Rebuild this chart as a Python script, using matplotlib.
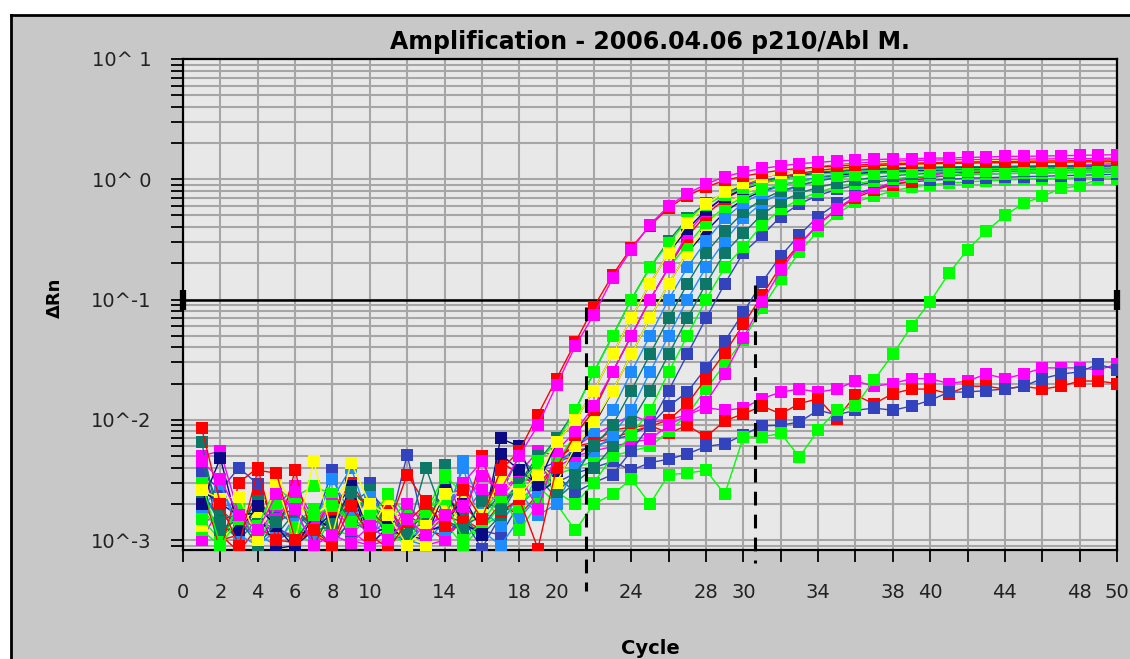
import numpy as np
import matplotlib
matplotlib.use("Agg")
import matplotlib.pyplot as plt
from matplotlib.patches import Rectangle
from matplotlib.lines import Line2D

# dRn values in units of 1e-3, cycles 1..50
cycles = np.arange(1, 51)

mag_a = [4.5, 3.2, 1.6, 1.2, 2.4, 1.8, 0.9, 1.1, 0.95, 1.3, 1.0, 1.5, 1.1, 1.6, 1.9, 3.4, 2.6,
         5, 9, 19.5, 41, 75, 150, 260, 420, 600, 760, 910, 1050, 1150, 1230, 1290, 1350, 1380, 1420,
         1440, 1460, 1470, 1480, 1500, 1500, 1520, 1530, 1550, 1550, 1560, 1570, 1580, 1590, 1600]
red_a = [8.5, 2.0, 0.9, 3.8, 3.6, 1.0, 1.2, 0.9, 1.9, 1.1, 0.85, 1.4, 2.0, 1.3, 2.6, 1.5, 3.8,
         5.5, 11, 22, 44, 87, 160, 270, 410, 580, 730, 860, 980, 1060, 1130, 1190, 1230, 1260, 1290,
         1310, 1330, 1350, 1360, 1370, 1380, 1390, 1400, 1400, 1410, 1420, 1420, 1430, 1440, 1450]
grn_a = [3.0, 0.9, 1.5, 1.3, 2.8, 2.0, 1.6, 1.9, 1.4, 1.7, 1.2, 0.9, 1.8, 2.2, 1.0, 1.4, 2.3, 2.6,
         4.5, 6.5, 12, 25, 50, 100, 185, 296, 454, 611, 741, 852, 935, 1000, 1056, 1100, 1130, 1157,
         1176, 1194, 1204, 1210, 1215, 1220, 1225, 1230, 1232, 1235, 1240, 1243, 1246, 1250]
yel_a = [2.6, 2.2, 2.3, 1.0, 3.0, 1.0, 4.5, 1.1, 4.4, 2.0, 1.6, 0.9, 1.3, 2.4, 2.5, 1.6, 3.2, 2.4, 3.5,
         6.5, 10, 17.5, 35, 70, 135, 245, 430, 618, 789, 924, 1036, 1122, 1192, 1251, 1294, 1326,
         1350, 1370, 1385, 1395, 1405, 1410, 1415, 1420, 1425, 1430, 1435, 1440, 1445, 1450]
teal_a = [6.5, 1.2, 1.5, 0.9, 1.4, 1.7, 1.2, 1.3, 2.5, 2.0, 1.0, 1.1, 4.0, 1.5, 1.2, 2.1, 1.8, 3.0,
          4.5, 7.0, 12, 25, 50, 100, 185, 308, 472, 636, 770, 886, 973, 1040, 1098, 1146, 1175, 1204,
          1223, 1242, 1252, 1260, 1265, 1270, 1275, 1280, 1283, 1286, 1290, 1293, 1296, 1300]
navy_a = [2.0, 4.8, 1.2, 1.9, 1.3, 0.85, 1.6, 1.2, 2.8, 1.1, 1.3, 1.0, 1.2, 1.3, 2.3, 1.2, 5.2, 3.8, 2.9,
          6.5, 10, 17.5, 35, 70, 135, 245, 385, 554, 708, 828, 929, 1006, 1069, 1122, 1160, 1189,
          1210, 1225, 1238, 1248, 1255, 1260, 1265, 1270, 1275, 1280, 1285, 1290, 1295, 1300]
mag_b = [5.0, 5.5, 1.6, 1.0, 1.5, 2.5, 1.4, 2.0, 1.2, 0.9, 1.0, 2.0, 1.3, 1.6, 3.0, 4.5, 2.2, 3.5, 1.8,
         5.5, 8, 13, 25, 50, 100, 185, 356, 544, 733, 889, 1022, 1122, 1200, 1267, 1322, 1356,
         1389, 1411, 1433, 1444, 1450, 1455, 1460, 1465, 1470, 1475, 1480, 1485, 1490, 1500]
red_b = [3.0, 0.8, 3.0, 4.0, 1.0, 3.8, 0.9, 1.8, 3.0, 1.7, 1.3, 3.5, 2.0, 1.6, 1.4, 5.0, 1.7, 2.2, 0.85,
         4.0, 7.5, 12, 25, 50, 100, 185, 332, 508, 684, 830, 954, 1048, 1120, 1182, 1234, 1265,
         1296, 1317, 1338, 1348, 1355, 1362, 1368, 1374, 1380, 1385, 1390, 1393, 1396, 1400]
grn_b = [1.5, 1.0, 1.9, 0.9, 2.0, 2.3, 2.8, 2.4, 1.3, 1.5, 2.4, 1.6, 1.7, 3.5, 2.4, 1.6, 2.7, 1.2, 2.0,
         4.5, 7.5, 12, 25, 50, 100, 185, 284, 436, 587, 711, 818, 898, 960, 1013, 1058, 1085,
         1111, 1129, 1147, 1156, 1165, 1170, 1175, 1180, 1183, 1186, 1190, 1193, 1196, 1200]
yel_b = [1.3, 1.0, 1.4, 1.7, 3.2, 2.0, 1.5, 2.3, 3.0, 1.2, 2.2, 1.1, 0.9, 2.0, 1.4, 1.6, 3.8, 2.8, 4.5, 3.0,
         6.0, 9.5, 17.5, 35, 70, 135, 245, 415, 596, 762, 892, 1001, 1084, 1151, 1208, 1250,
         1281, 1305, 1325, 1340, 1350, 1360, 1368, 1375, 1380, 1385, 1390, 1393, 1396, 1400]
sky_a = [1.3, 3.0, 1.1, 0.9, 1.2, 2.5, 1.3, 3.2, 1.6, 2.3, 1.5, 1.0, 0.9, 1.5, 4.0, 1.2, 0.9, 1.5, 2.3, 4.0,
         6.0, 8, 12, 25, 50, 100, 185, 308, 472, 636, 770, 886, 973, 1040, 1098, 1146,
         1175, 1204, 1223, 1242, 1252, 1260, 1265, 1270, 1275, 1280, 1284, 1288, 1292, 1300]
navy_b = [2.6, 2.0, 1.6, 1.7, 0.85, 0.9, 1.2, 1.7, 2.8, 0.9, 1.3, 1.1, 1.0, 2.6, 1.4, 1.1, 7.0, 6.0, 2.4, 3.2,
          5.5, 9, 17.5, 35, 70, 135, 245, 370, 532, 681, 796, 894, 968, 1028, 1079, 1116,
          1144, 1165, 1180, 1195, 1205, 1212, 1218, 1224, 1230, 1235, 1239, 1243, 1247, 1250]
teal_b = [4.5, 1.8, 1.3, 2.1, 1.2, 1.0, 1.6, 2.2, 1.5, 2.4, 1.1, 1.2, 1.4, 2.6, 1.5, 1.1, 1.6, 3.0, 5.0, 2.5, 3.5,
          6.0, 9, 17.5, 35, 70, 135, 245, 370, 532, 681, 796, 894, 968, 1028, 1079,
          1116, 1144, 1165, 1180, 1195, 1205, 1212, 1218, 1224, 1230, 1235, 1240, 1245, 1250]
sky_b = [1.8, 2.9, 1.3, 1.1, 0.9, 1.6, 1.0, 2.2, 4.0, 1.4, 1.1, 1.0, 1.3, 1.2, 4.5, 1.8, 1.3, 2.5, 1.6, 2.0, 4.0,
         5.5, 7.5, 12, 25, 50, 100, 185, 308, 472, 636, 770, 886, 973, 1040, 1098,
         1146, 1175, 1204, 1223, 1242, 1252, 1260, 1265, 1270, 1275, 1280, 1285, 1290, 1300]
teal_c = [2.5, 1.4, 1.0, 1.5, 1.1, 1.7, 1.3, 1.4, 2.0, 2.6, 1.2, 1.5, 0.9, 4.2, 1.3, 1.6, 2.4, 5.0, 3.4, 2.2, 3.0, 4.0,
          6.0, 9.5, 17.5, 35, 70, 135, 245, 356, 511, 653, 765, 858, 929, 987,
          1036, 1071, 1098, 1120, 1135, 1148, 1158, 1165, 1172, 1178, 1184, 1190, 1195, 1200]
grn_c = [1.2, 0.9, 2.0, 1.4, 2.4, 1.2, 0.9, 1.5, 1.8, 2.3, 1.0, 1.3, 1.6, 3.0, 1.1, 1.2, 2.0, 1.7, 3.6, 2.5, 2.0, 3.0,
         5.0, 7.5, 12, 25, 50, 100, 185, 273, 417, 562, 682, 784, 861, 920,
         971, 1014, 1039, 1065, 1082, 1099, 1108, 1115, 1122, 1128, 1134, 1139, 1144, 1150]
blue_a = [3.6, 2.6, 4.0, 2.9, 1.3, 1.0, 1.3, 3.8, 1.0, 3.0, 1.2, 5.1, 1.1, 1.4, 1.2, 1.3, 1.9, 3.0, 4.2, 3.4, 2.5, 3.0, 3.5,
          5.5, 9.0, 17.5, 35, 70, 135, 245, 341, 490, 626, 733, 822, 890,
          946, 993, 1027, 1052, 1073, 1090, 1105, 1115, 1122, 1130, 1136, 1141, 1146, 1150]
blue_b = [4.0, 1.5, 1.0, 2.0, 1.6, 1.8, 1.3, 0.9, 1.5, 2.5, 1.7, 1.0, 1.2, 1.1, 1.5, 0.85, 1.6, 2.2, 3.8, 4.5, 5.5, 6.0, 6.8,
          7.5, 9.0, 13, 17, 27, 45, 78, 140, 230, 345, 490, 630, 760,
          840, 910, 950, 980, 1000, 1020, 1030, 1040, 1050, 1060, 1070, 1080, 1090, 1100]
red_c = [2.2, 1.1, 0.8, 1.3, 1.0, 0.95, 1.2, 2.2, 1.8, 1.4, 1.9, 1.0, 2.1, 1.3, 2.0, 1.3, 2.0, 1.6, 2.4, 4.8, 6.0,
         6.5, 7.0, 8.0, 8.8, 10, 13.6, 22, 36, 62, 108, 190, 290, 420, 560, 700,
         810, 900, 970, 1030, 1080, 1120, 1150, 1180, 1200, 1220, 1240, 1260, 1280, 1300]
mag_c = [1.0, 1.9, 2.0, 1.1, 1.9, 2.8, 1.5, 2.0, 1.6, 1.1, 1.5, 1.7, 0.9, 1.0, 1.6, 2.6, 2.0, 3.0, 3.4, 4.0, 5.0,
         5.5, 6.0, 6.5, 6.9, 9, 11, 14, 24, 48, 95, 175, 285, 420, 570, 720,
         840, 940, 1020, 1080, 1130, 1170, 1200, 1230, 1250, 1270, 1290, 1310, 1330, 1350]
grn_d = [2.0, 1.3, 1.1, 1.6, 1.9, 1.4, 1.0, 1.7, 2.3, 0.9, 1.3, 1.4, 1.5, 2.1, 1.0, 2.3, 1.5, 2.0, 2.6, 3.5, 4.0,
         4.5, 5.0, 5.5, 6.0, 8, 11, 18, 29, 46, 85, 147, 250, 370, 510, 650,
         720, 800, 860, 900, 930, 950, 970, 985, 1000, 1010, 1020, 1030, 1040, 1050]
# low / negative wells
mag_neg = [1.4, 1.6, 1.3, 1.5, 1.2, 1.1, 1.2, 2.0, 1.0, 0.9, 2.4, 1.3, 1.1, 1.9, 3.0, 2.5, 2.4,
           3.6, 5.5, 5.0, 6.0, 7.5, 9.0, 11, 9.5, 10, 11, 12.6, 12, 12.5, 15, 17, 18, 17, 18,
           21, 19, 20, 22, 22, 20, 21, 24, 22, 24, 27, 27, 27, 26, 29]
red_neg = [5.0, 1.0, 1.1, 2.6, 1.0, 1.2, 1.1, 0.9, 2.6, 1.8, 1.2, 1.6, 1.3, 1.0, 1.5, 1.2, 4.5,
           3.5, 2.8, 4.5, 5.0, 6.5, 8.2, 8.7, 9.0, 7.7, 9.0, 7.2, 9.8, 11.2, 13, 11.2, 13.6, 15, 10.2,
           16, 13.6, 16.5, 18, 18, 16.5, 19, 19, 18, 19, 18, 19, 21, 21, 20]
blue_neg = [2.5, 1.5, 1.6, 1.4, 1.8, 1.3, 1.7, 1.0, 1.4, 1.2, 1.9, 1.1, 1.8, 1.4, 1.3, 1.2, 1.1,
            2.0, 2.6, 3.0, 3.6, 4.0, 4.5, 3.8, 4.4, 4.7, 5.2, 6.0, 6.3, 7.5, 8.9, 9.0, 9.6, 12, 11,
            12, 12.5, 12, 13, 14.5, 17, 17, 17.5, 18, 19, 22, 24, 25, 29, 26]
grn_late = [1.9, 1.1, 1.3, 1.2, 1.0, 1.4, 1.8, 1.2, 1.1, 1.6, 1.5, 2.0, 1.3, 1.4, 0.9, 1.3, 1.6, 2.2, 2.8,
            2.0, 1.2, 2.0, 2.4, 3.2, 2.0, 3.5, 3.6, 3.8, 2.4, 7.2, 7.2, 7.7, 4.9, 8.2, 12,
            13, 21.5, 35, 60, 96, 165, 260, 370, 500, 630, 720, 840, 880, 1000, 1000]

MAG, RED, YEL, GRN = "#FF00FF", "#FF0000", "#FFFF00", "#00FF00"
TEAL, SKY, BLUE, NAVY = "#0E7868", "#1E8CFF", "#3343BD", "#0A0A85"

wells = [
    (mag_neg, MAG), (red_neg, RED), (blue_neg, BLUE), (grn_late, GRN),
    (grn_d, GRN), (blue_b, BLUE), (red_c, RED), (mag_c, MAG),
    (blue_a, BLUE), (grn_c, GRN), (teal_c, TEAL), (sky_b, SKY), (teal_b, TEAL),
    (navy_b, NAVY), (sky_a, SKY), (yel_b, YEL), (grn_b, GRN), (red_b, RED),
    (mag_b, MAG), (navy_a, NAVY), (teal_a, TEAL), (grn_a, GRN), (yel_a, YEL),
    (red_a, RED), (mag_a, MAG),
]

threshold = 0.1
ct_marks = [21.6, 30.6]
ct_tops = [0.086, 0.133]
ct_bottoms = [10 ** -3.42, 10 ** -3.19]

xtick_labels = {0: "0", 2: "2", 4: "4", 6: "6", 8: "8", 10: "10", 14: "14", 18: "18", 20: "20",
                24: "24", 28: "28", 30: "30", 34: "34", 38: "38", 40: "40", 44: "44", 48: "48", 50: "50"}
ytick_vals = [1e-3, 1e-2, 1e-1, 1e0, 1e1]
ytick_labels = ["10^-3", "10^-2", "10^-1", "10^ 0", "10^ 1"]

fig = plt.figure(figsize=(11.3, 6.59), dpi=100)
fig.patch.set_facecolor("#C8C8C8")
ax = fig.add_axes([183 / 1130, 1 - 550 / 659, 934 / 1130, 491 / 659])
ax.set_facecolor("#E8E8E8")

# window frame
fig.patches.append(Rectangle((0, 1 - 15 / 659), 1, 15 / 659, transform=fig.transFigure,
                             color="white", zorder=0))
fig.patches.append(Rectangle((0, 0), 11 / 1130, 1, transform=fig.transFigure, color="white", zorder=0))
fig.lines.append(Line2D([11 / 1130, 1], [1 - 15 / 659] * 2, transform=fig.transFigure, color="black", lw=2))
fig.lines.append(Line2D([11 / 1130] * 2, [0, 1 - 15 / 659], transform=fig.transFigure, color="black", lw=2))

ax.set_yscale("log")
ax.set_xlim(0, 50)
ax.set_ylim(10 ** -3.083, 10)

ax.set_xticks(np.arange(0, 51, 2))
ax.set_xticklabels([xtick_labels.get(t, "") for t in range(0, 51, 2)])
ax.set_yticks(ytick_vals)
ax.set_yticklabels(ytick_labels)
ax.yaxis.set_minor_locator(matplotlib.ticker.LogLocator(base=10, subs=np.arange(2, 10)))
ax.yaxis.set_minor_formatter(matplotlib.ticker.NullFormatter())
ax.tick_params(axis="both", which="both", direction="out", length=8.5, width=1.3, labelsize=14,
               labelcolor="#222222")
ax.tick_params(axis="x", pad=15)
ax.tick_params(axis="y", pad=14)

ax.grid(True, which="major", axis="x", color="#A6A6A6", lw=1.5)
ax.grid(True, which="both", axis="y", color="#A6A6A6", lw=1.5)
ax.set_axisbelow(True)
for s in ax.spines.values():
    s.set_linewidth(1.6)

ax.plot([0, 50], [threshold, threshold], color="black", lw=1.8, marker="|", markersize=14,
        markeredgewidth=4.5, zorder=2, clip_on=False)

for vals, col in wells:
    ax.plot(cycles, np.array(vals) / 1000.0, color=col, lw=1.0, marker="s", markersize=8,
            markeredgewidth=0, zorder=3)

for x, top, bot in zip(ct_marks, ct_tops, ct_bottoms):
    ax.plot([x, x], [top, bot], color="black", lw=2.2, linestyle=(0, (4.5, 3)), zorder=5, clip_on=False)

ax.set_title("Amplification - 2006.04.06 p210/Abl M.", fontsize=17, fontweight="bold", pad=7)
ax.set_xlabel("Cycle", fontsize=14, fontweight="bold")
ax.xaxis.set_label_coords(0.5, -0.2)
ax.xaxis.label.set_va("center")
ax.set_ylabel("ΔRn", fontsize=13, fontweight="bold")
ax.yaxis.set_label_coords(-0.137, 0.513)
ax.yaxis.label.set_va("center")

fig.savefig("out.png", dpi=100, facecolor=fig.get_facecolor())
